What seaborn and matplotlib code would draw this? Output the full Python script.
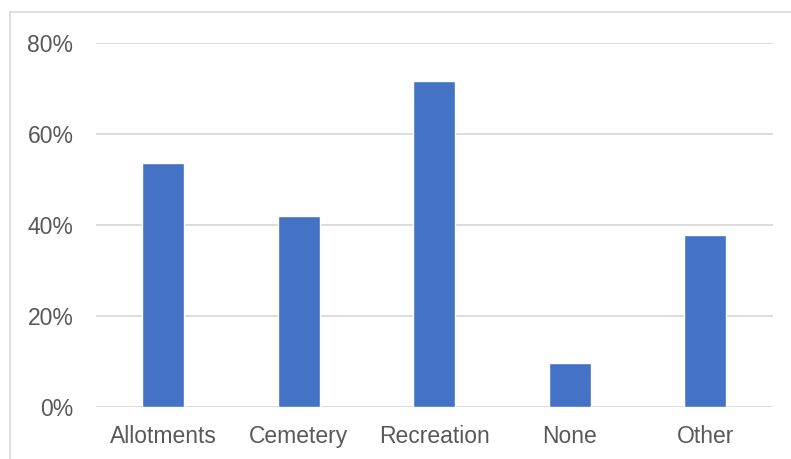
import matplotlib
matplotlib.use('Agg')
import matplotlib.pyplot as plt
import matplotlib.ticker as mtick
from matplotlib.patches import Rectangle
import seaborn as sns
import pandas as pd

categories = ['Allotments', 'Cemetery', 'Recreation', 'None', 'Other']
shares = [53.5, 42.0, 71.5, 9.7, 37.7]
y_ticks = [0, 20, 40, 60, 80]

df = pd.DataFrame({'category': categories, 'share': shares})

sns.set_style('white')
plt.rcParams['font.family'] = ['Liberation Sans', 'DejaVu Sans']

fig = plt.figure(figsize=(7.91, 4.59), dpi=100)
ax = fig.add_axes([0.121, 0.114, 0.856, 0.793])

sns.barplot(data=df, x='category', y='share', color='#4472C4', saturation=1,
            width=0.31, ax=ax)

ax.set_ylim(0, 80)
ax.set_yticks(y_ticks)
ax.yaxis.set_major_formatter(mtick.PercentFormatter(decimals=0))
ax.grid(axis='y', color='#d9d9d9', linewidth=1.3)
ax.set_axisbelow(True)
for s in ax.spines.values():
    s.set_visible(False)
ax.set_xlabel('')
ax.set_ylabel('')
ax.tick_params(axis='y', length=0, pad=16, labelsize=16.5, labelcolor='#595959')
ax.tick_params(axis='x', length=0, pad=13, labelsize=16.5, labelcolor='#595959')

# chart area border (cropped on right and bottom)
fig.patches.append(Rectangle((9.5 / 791, -0.1), 1.2, (459 - 12.5) / 459 + 0.1,
                             transform=fig.transFigure, fill=False,
                             edgecolor='#d9d9d9', linewidth=1.2))

fig.savefig('out.png', dpi=100)
